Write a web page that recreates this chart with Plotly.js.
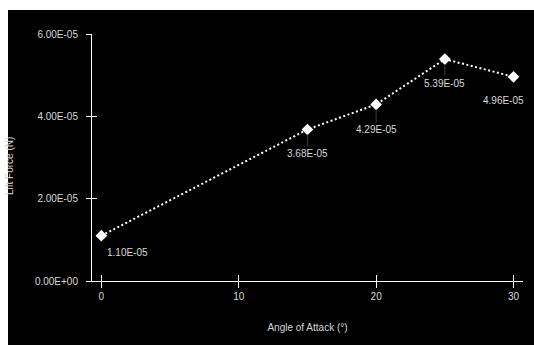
<!DOCTYPE html>
<html>
<head>
<meta charset="utf-8">
<script src="https://cdn.plot.ly/plotly-3.0.1.min.js"></script>
<style>
html,body{margin:0;padding:0;background:#fff;}
#chart{width:534px;height:345px;}
</style>
</head>
<body>
<div id="chart"></div>
<script>
var angles = [0, 15, 20, 25, 30];
var lift = [1.10e-5, 3.68e-5, 4.29e-5, 5.39e-5, 4.96e-5];
var pointLabels = ["1.10E-05", "3.68E-05", "4.29E-05", "5.39E-05", "4.96E-05"];
var xTickVals = [0, 10, 20, 30];
var yTickVals = [0, 2e-5, 4e-5, 6e-5];
var yTickText = ["0.00E+00", "2.00E-05", "4.00E-05", "6.00E-05"];

var W = 534, H = 345, ML = 92, MR = 11, MT = 34, MB = 64;
var pw = W - ML - MR, ph = H - MT - MB;
function px(x){ return (x - ML) / pw; }
function py(y){ return (H - MB - y) / ph; }

var FONT = "Liberation Sans, Arial, sans-serif";
var TXT = "#d8d8d8";

var trace = {
  x: angles, y: lift, type: "scatter", mode: "lines+markers",
  line: {color: "#ffffff", width: 2, dash: "2px,2.5px"},
  marker: {symbol: "diamond", size: 9, color: "#ffffff"},
  hoverinfo: "skip", showlegend: false
};
var dummy = {x: [0], y: [0], xaxis: "x2", yaxis: "y2", mode: "markers",
  marker: {opacity: 0}, showlegend: false, hoverinfo: "skip"};

var anns = [];
var offs = [[26, 17, false], [0, 24, true], [0, 25, true], [0, 24, true], [-10, 24, false]];
for (var i = 0; i < angles.length; i++) {
  var o = offs[i];
  if (o[2]) {
    anns.push({x: angles[i], y: lift[i], xref: "x", yref: "y", text: pointLabels[i],
      showarrow: true, ax: o[0], ay: o[1], arrowhead: 0, arrowwidth: 1, arrowcolor: "#3a3a3a",
      standoff: 5, font: {family: FONT, size: 10, color: TXT}});
  } else {
    anns.push({x: angles[i], y: lift[i], xref: "x", yref: "y", text: pointLabels[i],
      showarrow: false, xshift: o[0], yshift: -o[1],
      font: {family: FONT, size: 10, color: TXT}});
  }
}
anns.push({x: px(10), y: py(166), xref: "paper", yref: "paper", text: "Lift Force (N)",
  textangle: -90, showarrow: false, xanchor: "center", yanchor: "middle",
  font: {family: FONT, size: 10, color: TXT}});

var axCommon = {showgrid: false, zeroline: false, showline: true, linecolor: "#ffffff",
  linewidth: 1, tickcolor: "#ffffff", tickwidth: 1, ticklen: 6,
  tickfont: {family: FONT, size: 10, color: TXT}};

var layout = {
  width: W, height: H,
  margin: {l: ML, r: MR, t: MT, b: MB, pad: 0},
  paper_bgcolor: "#ffffff", plot_bgcolor: "#000000",
  font: {family: FONT, size: 10, color: TXT},
  xaxis: Object.assign({}, axCommon, {range: [-0.68, 30.69], tickvals: xTickVals,
    ticks: "outside", title: {text: "Angle of Attack (°)", standoff: 22,
    font: {family: FONT, size: 10, color: TXT}}}),
  yaxis: Object.assign({}, axCommon, {range: [0, 6e-5], tickvals: yTickVals, ticktext: yTickText,
    ticks: "outside", ticklen: 5, ticklabelstandoff: 6}),
  xaxis2: {overlaying: "x", range: [-0.68, 30.69], tickvals: xTickVals, ticks: "inside",
    ticklen: 6, tickcolor: "#ffffff", showticklabels: false, showgrid: false, zeroline: false,
    showline: false, side: "bottom"},
  yaxis2: {overlaying: "y", range: [0, 6e-5], tickvals: yTickVals, ticks: "inside",
    ticklen: 5, tickcolor: "#ffffff", showticklabels: false, showgrid: false, zeroline: false,
    showline: false, side: "left"},
  shapes: [{type: "rect", xref: "paper", yref: "paper", x0: px(8), x1: px(534),
    y0: py(345), y1: py(10), fillcolor: "#000000", line: {width: 0}, layer: "below"}],
  annotations: anns
};

Plotly.newPlot("chart", [trace, dummy], layout, {staticPlot: true, displayModeBar: false});
</script>
</body>
</html>
